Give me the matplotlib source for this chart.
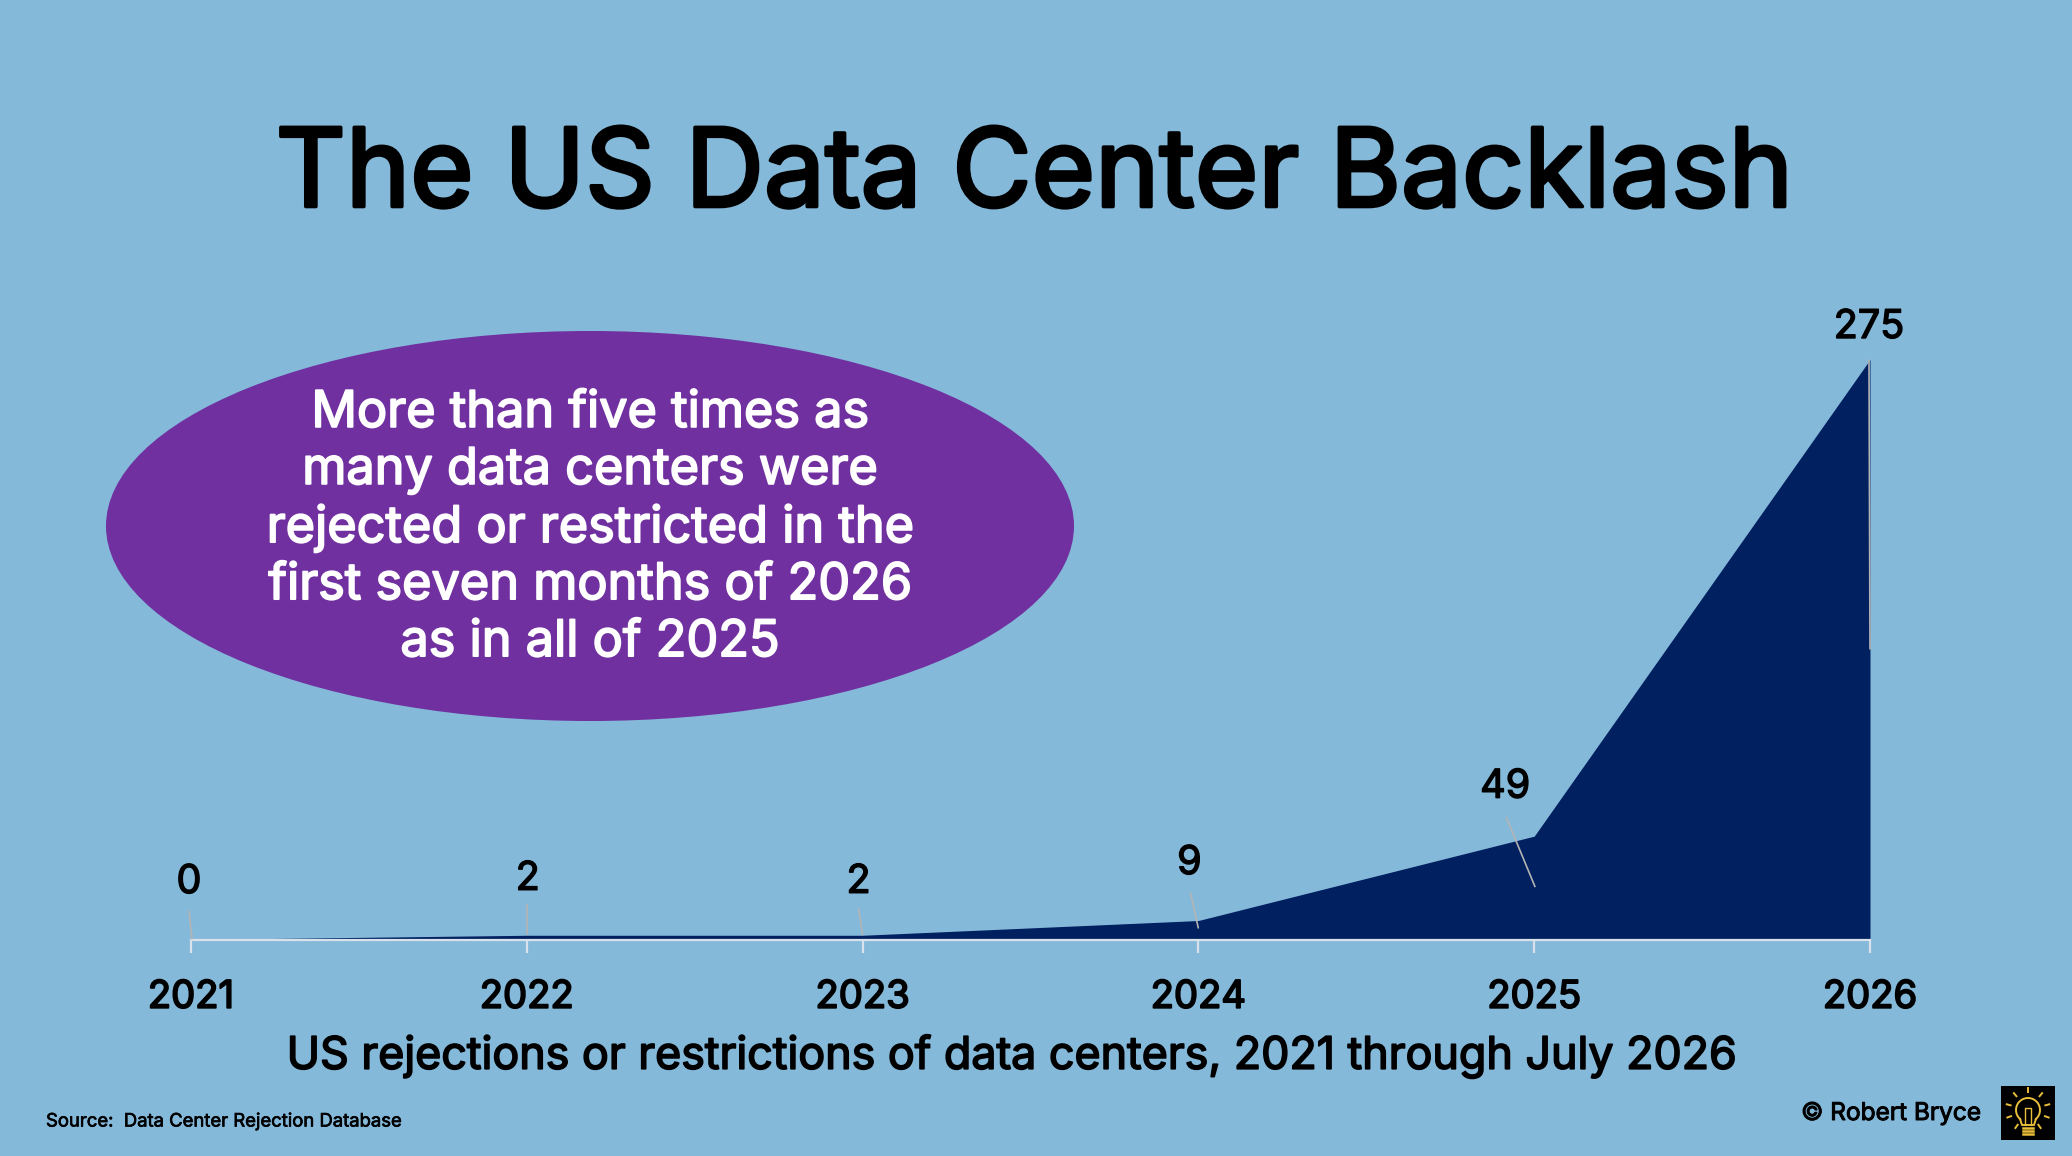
import matplotlib
matplotlib.use("Agg")
from matplotlib import pyplot as plt
from matplotlib.patches import Ellipse, Rectangle
import matplotlib.patheffects as pe
import numpy as np

plt.rcParams['font.family'] = ['Inter', 'DejaVu Sans']

# Data
years = [2021, 2022, 2023, 2024, 2025, 2026]
rejections = [0, 2, 2, 9, 49, 275]

title = "The US Data Center Backlash"
callout = ("More than five times as\nmany data centers were\nrejected or restricted in the\n"
           "first seven months of 2026\nas in all of 2025")
axis_title = "US rejections or restrictions of data centers, 2021 through July 2026"
source = "Source:  Data Center Rejection Database"
credit = "\u00a9 Robert Bryce"

BG = "#85B9DA"
NAVY = "#002060"
PURPLE = "#7030A0"
W, H = 2072, 1156


def heavy(width, colour="black"):
    # the font only has a regular weight here, so thicken it a little
    return [pe.withStroke(linewidth=width, foreground=colour)]


fig = plt.figure(figsize=(W / 100, H / 100), dpi=100, facecolor=BG)

# pixel overlay for the slide furniture
over = fig.add_axes([0, 0, 1, 1], zorder=3)
over.set_xlim(0, W)
over.set_ylim(H, 0)
over.axis("off")

ax = fig.add_axes([191 / W, (H - 939.5) / H, (1870 - 191) / W, 580 / H], zorder=2)
ax.patch.set_alpha(0)
ax.fill_between(years, rejections, 0, color=NAVY, lw=0)
ax.set_xlim(2021, 2026)
ax.set_ylim(0, 275)
ax.set_yticks([])
ax.set_xticks(years)
ax.set_xticklabels(years, fontsize=27.5, color="black", path_effects=heavy(1.3))
ax.tick_params(axis="x", length=9, width=1.6, color="#D9E2EA", pad=20)
for s in ["top", "left", "right"]:
    ax.spines[s].set_visible(False)
ax.spines["bottom"].set_color("#D9E2EA")
ax.spines["bottom"].set_linewidth(1.6)

# data labels with their grey leader lines, offsets in pixels from the point
label_off = [(-2, 57), (1, 56), (-4, 53), (-9, 57), (-29, 49), (-1, 32)]
leader_top = [(-2, 29), (0, 31), (-4, 27), (-8, 28), (-28, 19), (-1, 0)]
leader_bot = [(1, 0), (0, 0), (0, 0), (0, -8), (1, -51), (0, -290)]
for yr, val, lo, lt, lb in zip(years, rejections, label_off, leader_top, leader_bot):
    ax.annotate(str(val), (yr, val), xytext=lo, textcoords="offset pixels",
                ha="center", va="center", fontsize=28.5, color="black",
                annotation_clip=False, path_effects=heavy(1.0))
    px, py = ax.transData.transform((yr, val))
    over.plot([px + lt[0], px + lb[0]], [H - py - lt[1], H - py - lb[1]],
              color="#B4B4B4", lw=1.2, solid_capstyle="butt")

over.text(1034, 178, title, ha="center", va="center", fontsize=78.3, color="black", path_effects=heavy(2.6))
over.add_patch(Ellipse((590, 526), 968, 390, fc=PURPLE, ec="none"))
over.text(590, 528, callout, ha="center", va="center", fontsize=36.3, color="white",
          linespacing=1.27, path_effects=heavy(1.3, "white"))
over.text(1012, 1056, axis_title, ha="center", va="center", fontsize=32.25, color="black", path_effects=heavy(1.2))
over.text(46, 1122, source, ha="left", va="center", fontsize=13.3, color="black", path_effects=heavy(0.5))
over.text(1801, 1113, credit, ha="left", va="center", fontsize=17.6, color="black", path_effects=heavy(0.7))

# lightbulb logo
over.add_patch(Rectangle((2001, 1086), 54, 54, fc="black", ec="none"))
gold = "#E8BE3A"
t = np.linspace(np.radians(-230), np.radians(50), 40)
over.plot(2028 + 12 * np.cos(t), 1110 + 12 * np.sin(t), color=gold, lw=1.4)
over.plot([2020, 2022, 2034, 2036], [1119, 1125, 1125, 1119], color=gold, lw=1.4)
over.plot([2025, 2025, 2031, 2031], [1125, 1108, 1108, 1125], color=gold, lw=1.0)
for yy in [1128, 1131, 1134]:
    over.plot([2023, 2033], [yy, yy], color=gold, lw=1.8)
for ang in [-90, -50, -130, -15, -165, 20, 160, 55, 125]:
    a = np.radians(ang)
    over.plot([2028 + 18 * np.cos(a), 2028 + 22 * np.cos(a)],
              [1110 + 18 * np.sin(a), 1110 + 22 * np.sin(a)], color=gold, lw=1.4)

fig.savefig("out.png", dpi=100, facecolor=BG)
